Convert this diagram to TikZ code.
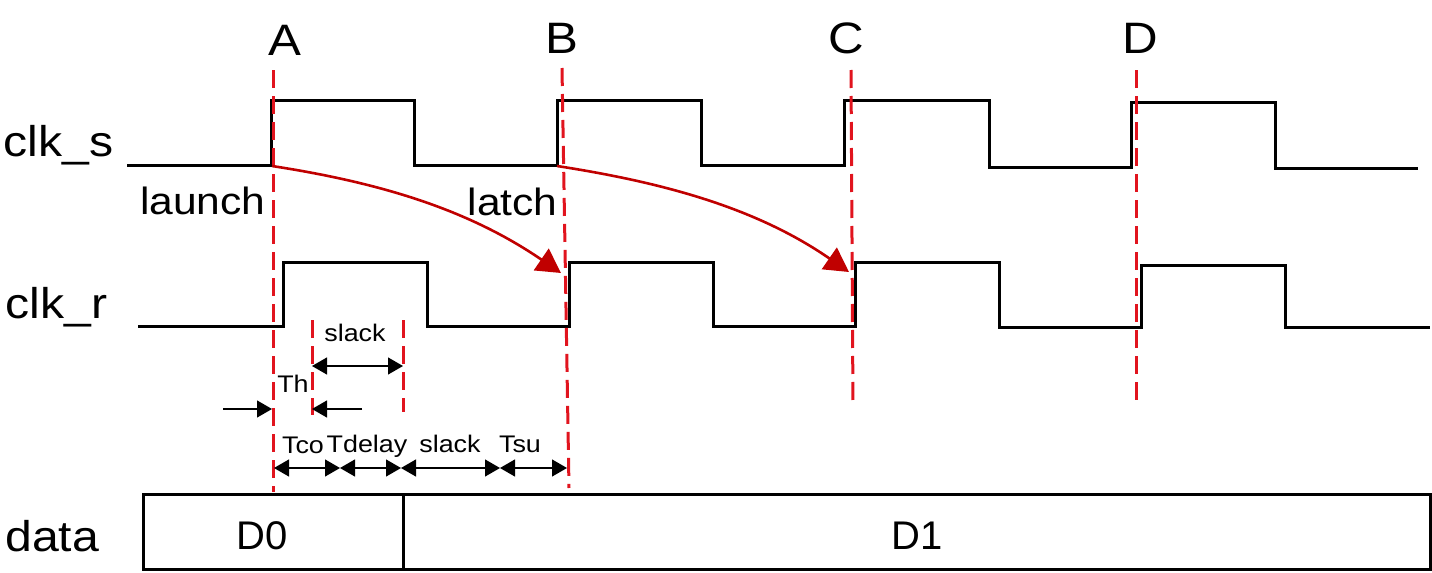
\documentclass[tikz,border=0pt]{standalone}
\usepackage{fontspec}
\setmainfont{Liberation Sans}
\usetikzlibrary{arrows.meta}
\definecolor{dashred}{RGB}{225,20,30}
\definecolor{arrred}{RGB}{192,0,0}
\newcommand\hsx[1]{\scalebox{1.12}[1]{#1}}
\tikzset{
  wave/.style={line width=1.5pt, black, line join=miter},
  marker/.style={line width=1.5pt, dashred, dash pattern=on 9pt off 4pt},
  flow/.style={line width=1.3pt, arrred, -{Triangle[length=12pt,width=13pt]}},
  dim/.style={line width=0.6pt, black, {Triangle[length=7.5pt,width=8.5pt]}-{Triangle[length=7.5pt,width=8.5pt]}},
  dimr/.style={line width=0.6pt, black, -{Triangle[length=7.5pt,width=8.5pt]}},
  big/.style={inner sep=0pt, anchor=base, font=\fontsize{22}{26}\selectfont},
  sig/.style={inner sep=0pt, anchor=base west, font=\fontsize{21.5}{25}\selectfont},
  mid/.style={inner sep=0pt, font=\fontsize{19}{23}\selectfont},
  small/.style={inner sep=0pt, anchor=base, font=\fontsize{12}{14}\selectfont},
}
\begin{document}
\begin{tikzpicture}[x=0.5pt,y=-0.5pt]
\useasboundingbox (0,0) rectangle (1432,573);
% edge labels
\node[big] (lA) at (285,55) {\hsx{A}};
\node[big] (lB) at (562,54) {\hsx{B}};
\node[big] (lC) at (846,54) {\hsx{C}};
\node[big] (lD) at (1140,54) {\hsx{D}};
% signal names
\node[sig] (nclks) at (3,156) {\hsx{clk\_s}};
\node[sig] (nclkr) at (5,318) {\hsx{clk\_r}};
\node[sig] (ndata) at (5,551) {\hsx{data}};
\node[mid, anchor=base east] (launch) at (266,214) {\hsx{launch}};
\node[mid, anchor=base east] (latch) at (558,215) {\hsx{latch}};
% waveforms
\draw[wave] (127,165) -- (271,165) -- (271,100) -- (414,100) -- (414,165) -- (557,165) -- (557,100) -- (701,100) -- (701,165) -- (844,165) -- (844,100) -- (989,100) -- (989,167) -- (1131,167) -- (1131,102) -- (1275,102) -- (1275,168) -- (1418,168);
\draw[wave] (138,326) -- (283,326) -- (283,262) -- (427,262) -- (427,326) -- (569,326) -- (569,262) -- (713,262) -- (713,326) -- (855,326) -- (855,262) -- (999,262) -- (999,327) -- (1141,327) -- (1141,265) -- (1285,265) -- (1285,327) -- (1430,327);
% data bus
\draw[wave] (143,494) rectangle (1430,569);
\draw[wave] (403,494) -- (403,569);
\node[mid, anchor=base, font=\fontsize{20}{24}\selectfont] (d0) at (262,549) {D0};
\node[mid, anchor=base, font=\fontsize{20}{24}\selectfont] (d1) at (917,549) {D1};
% red markers
\coordinate (mAt) at (273,70);  \coordinate (mAb) at (273,492);
\coordinate (mBt) at (562,68);  \coordinate (mBb) at (569,488);
\coordinate (mCt) at (851,70);  \coordinate (mCb) at (853,407);
\coordinate (mDt) at (1136,70); \coordinate (mDb) at (1136,407);
\coordinate (m1t) at (312,320); \coordinate (m1b) at (312,415);
\coordinate (m2t) at (403,320); \coordinate (m2b) at (403,412);
\foreach \m in {A,B,C,D,1,2} \draw[marker] (m\m t) -- (m\m b);
% launch / latch arrows
\coordinate (s1) at (272,166); \coordinate (e1) at (561,273);
\coordinate (s2) at (557,166); \coordinate (e2) at (849,272);
\draw[flow] (s1) .. controls (382,183) and (469,210) .. (e1);
\draw[flow] (s2) .. controls (667,183) and (758,209) .. (e2);
% hold / slack
\coordinate (h1) at (312,366); \coordinate (h2) at (403,366);
\draw[dim] (h1) -- (h2);
\node[small] (slk1) at (355,341) {\hsx{slack}};
\node[small] (th) at (293,392) {\hsx{Th}};
\coordinate (ta0) at (223,409); \coordinate (ta1) at (272,409);
\coordinate (tb0) at (362,409); \coordinate (tb1) at (312,409);
\draw[dimr] (ta0) -- (ta1);
\draw[dimr] (tb0) -- (tb1);
% setup chain
\coordinate (p0) at (274,468); \coordinate (p1) at (340,468);
\coordinate (p2) at (401,468); \coordinate (p3) at (500,468);
\coordinate (p4) at (567,468);
\draw[dim] (p0) -- (p1);
\draw[dim] (p1) -- (p2);
\draw[dim] (p2) -- (p3);
\draw[dim] (p3) -- (p4);
\node[small] (tco) at (303,453) {\hsx{Tco}};
\node[small] (tdl) at (367,452) {\hsx{Tdelay}};
\node[small] (slk2) at (450,452) {\hsx{slack}};
\node[small] (tsu) at (520,452) {\hsx{Tsu}};
\end{tikzpicture}
\end{document}
